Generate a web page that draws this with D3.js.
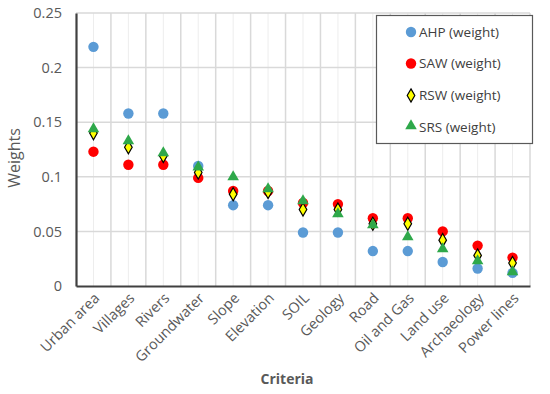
<!DOCTYPE html>
<html><head><meta charset="utf-8">
<script src="https://cdn.jsdelivr.net/npm/d3@7"></script>
<style>body{margin:0;background:#fff}svg{display:block}text{font-family:"Open Sans",sans-serif}</style>
</head><body><svg id="c" width="550" height="394"></svg>
<script>
const categories = ["Urban area","Villages","Rivers","Groundwater","Slope","Elevation","SOIL","Geology","Road","Oil and Gas","Land use","Archaeology","Power lines"];
const ahp = [0.219,0.158,0.158,0.110,0.074,0.074,0.049,0.049,0.032,0.032,0.022,0.016,0.012];
const saw = [0.123,0.111,0.111,0.099,0.087,0.087,0.076,0.075,0.062,0.062,0.050,0.037,0.026];
const rsw = [0.140,0.127,0.119,0.104,0.084,0.086,0.070,0.070,0.057,0.057,0.042,0.028,0.021];
const srs = [0.143,0.132,0.121,0.108,0.099,0.088,0.077,0.065,0.055,0.044,0.033,0.022,0.012];
const yTicks = [0,0.05,0.1,0.15,0.2,0.25];
const seriesNames = ["AHP (weight)","SAW (weight)","RSW (weight)","SRS (weight)"];

const svg = d3.select("#c");
const L=76,R=530,T=13,B=286;
const x = d3.scaleBand().domain(categories).range([L,R]);
const y = d3.scaleLinear().domain([0,0.25]).range([B,T]);
const g = svg.append("g");
g.selectAll(".mv").data(categories).enter().append("line")
 .attr("x1",d=>x(d)+x.bandwidth()/2).attr("x2",d=>x(d)+x.bandwidth()/2)
 .attr("y1",T).attr("y2",B).attr("stroke","#EDEDED").attr("stroke-width",1);
g.selectAll(".Mv").data(categories.slice(1).concat(["__end"])).enter().append("line")
 .attr("x1",(d,i)=>i<categories.length-1?x(d):R).attr("x2",(d,i)=>i<categories.length-1?x(d):R)
 .attr("y1",T).attr("y2",B).attr("stroke","#D9D9D9").attr("stroke-width",1.5);
g.selectAll(".hg").data(yTicks.slice(1)).enter().append("line")
 .attr("x1",L).attr("x2",R).attr("y1",d=>y(d)).attr("y2",d=>y(d))
 .attr("stroke","#D9D9D9").attr("stroke-width",1.5);

const ya = svg.append("g").attr("transform",`translate(${L},0)`)
 .call(d3.axisLeft(y).tickValues(yTicks).tickSize(0).tickPadding(14).tickFormat(d=>d3.format("")(+d.toFixed(2))));
ya.select(".domain").attr("stroke","#404040").attr("stroke-width",2.2);
ya.selectAll("text").attr("font-size",14.5).attr("fill","#595959");
const xa = svg.append("g").attr("transform",`translate(0,${B})`)
 .call(d3.axisBottom(x).tickSize(0).tickPadding(0));
xa.select(".domain").attr("stroke","#404040").attr("stroke-width",2.2);
xa.selectAll("text").attr("font-size",14.5).attr("fill","#595959")
 .attr("text-anchor","end").attr("dy",0)
 .attr("transform","translate(7,13) rotate(-45)");

svg.append("text").attr("transform","translate(20,158) rotate(-90)").attr("text-anchor","middle")
 .attr("font-size",16).attr("fill","#595959").text("Weights");
svg.append("text").attr("x",287).attr("y",384).attr("text-anchor","middle")
 .attr("font-size",14).attr("font-weight","bold").attr("fill","#595959").text("Criteria");

const cx = d=>x(d)+x.bandwidth()/2;
const tri = d3.symbol().type(d3.symbolTriangle).size(58);
const dia = d3.symbol().type(d3.symbolDiamond).size(50);
function drawAHP(sel){sel.append("circle").attr("r",5.2).attr("fill","#5B9BD5");}
function drawSAW(sel){sel.append("circle").attr("r",5.2).attr("fill","#FF0000");}
function drawRSW(sel){sel.append("path").attr("d",dia).attr("fill","#FFFF00").attr("stroke","#000").attr("stroke-width",1.2);}
function drawSRS(sel){sel.append("path").attr("d",tri).attr("transform","translate(0,-1)").attr("fill","#2EA84A");}
const drawers=[drawAHP,drawSAW,drawRSW,drawSRS];
[ahp,saw,rsw,srs].forEach((arr,k)=>{
  const s = svg.append("g").selectAll("g").data(categories).enter().append("g")
   .attr("transform",(d,i)=>`translate(${cx(d)},${y(arr[i])})`);
  drawers[k](s);
});

const lg = svg.append("g");
lg.append("rect").attr("x",376.5).attr("y",15.5).attr("width",156).attr("height",128)
 .attr("fill","#fff").attr("stroke","#595959").attr("stroke-width",1.2);
const ly=[32,63.5,95.5,127];
seriesNames.forEach((n,k)=>{
  const e = lg.append("g").attr("transform",`translate(411,${ly[k]})`);
  drawers[k](e);
  lg.append("text").attr("x",419).attr("y",ly[k]).attr("dy","0.35em").attr("font-size",13.5)
   .attr("fill","#404040").text(n);
});
</script></body></html>
